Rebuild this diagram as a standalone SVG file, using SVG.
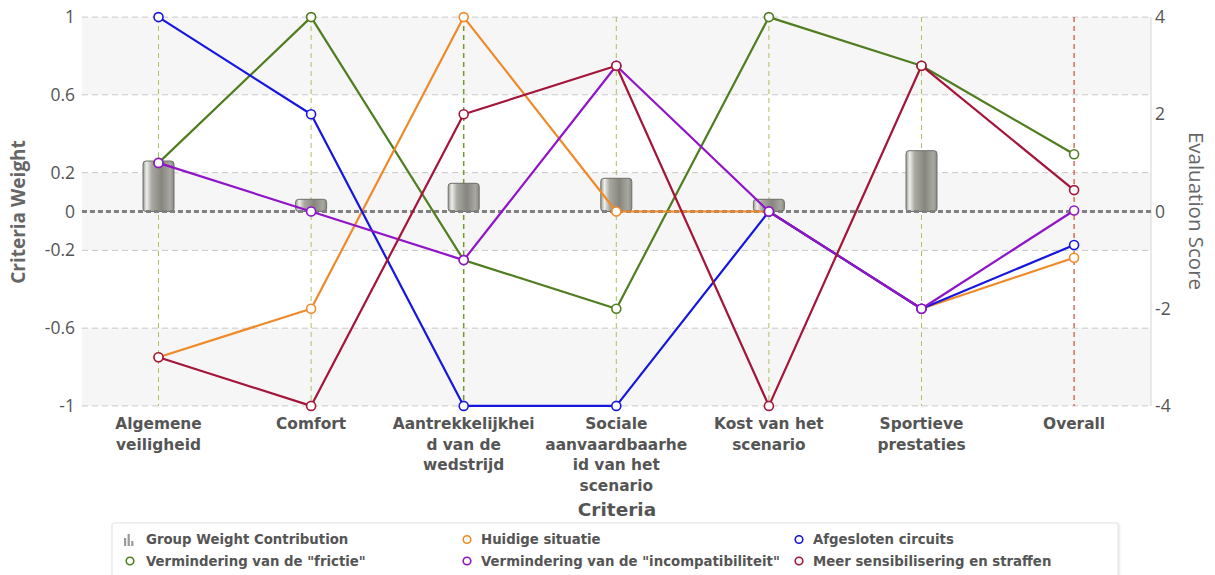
<svg xmlns="http://www.w3.org/2000/svg" width="1215" height="575" viewBox="0 0 1215 575">
  <style>
    .band { fill: #f6f6f6; }
    .grid { stroke: #c9c9c9; stroke-width: 1; stroke-dasharray: 6 4; fill: none; }
    .zero { stroke: #808080; stroke-width: 3; stroke-dasharray: 5 3; fill: none; }
    .guide { stroke: #a9c35c; stroke-width: 1; stroke-dasharray: 5 4; fill: none; }
    .guide-hi { stroke: #6e9c2c; stroke-width: 1.5; stroke-dasharray: 5 4; fill: none; }
    .guide-total { stroke: #cf5b3c; stroke-width: 1.3; stroke-dasharray: 5 4; fill: none; }
    .tick { font-family: "Open Sans", "DejaVu Sans", sans-serif; font-size: 17.5px; fill: #555; }
    .tick-l { text-anchor: end; }
    .axis-title { font-family: "Open Sans", "DejaVu Sans", sans-serif; fill: #666; text-anchor: middle; }
    .cat { font-family: "DejaVu Sans", Verdana, sans-serif; font-weight: bold; font-size: 15.4px; fill: #555; text-anchor: middle; }
    .cat-title { font-family: "DejaVu Sans", Verdana, sans-serif; font-weight: bold; font-size: 18.5px; fill: #555; text-anchor: middle; }
    .legend-text { font-family: "DejaVu Sans", Verdana, sans-serif; font-weight: bold; font-size: 13.3px; fill: #555; }
    .bar { fill: url(#barGrad); stroke: #6f6f6a; stroke-width: 1; }
    .line { fill: none; stroke-width: 2.2; stroke-linejoin: round; }
    .dot { fill: #fff; stroke-width: 1.6; }
    .s-green { stroke: #4f7d1f; }
    .s-orange { stroke: #ee8a2a; }
    .s-blue { stroke: #1616de; }
    .s-purple { stroke: #9014c8; }
    .s-red { stroke: #a3153a; }
  </style>
  <defs>
    <linearGradient id="barGrad" x1="0" y1="0" x2="1" y2="0">
      <stop offset="0" stop-color="#9c9c94"/>
      <stop offset="0.12" stop-color="#eeeeea"/>
      <stop offset="0.28" stop-color="#a9a9a2"/>
      <stop offset="0.6" stop-color="#86867f"/>
      <stop offset="0.88" stop-color="#a8a8a1"/>
      <stop offset="1" stop-color="#8a8a84"/>
    </linearGradient>
    <filter id="legendShadow" x="-5%" y="-20%" width="110%" height="140%">
      <feDropShadow dx="1" dy="1" stdDeviation="1.2" flood-color="#000" flood-opacity="0.12"/>
    </filter>
  </defs>

  <rect width="1215" height="575" fill="#fff"/>

  <!-- plot background bands -->
  <g id="plot-bands">
    <rect class="band" x="82" y="17.1" width="1069" height="77.7"/>
    <rect class="band" x="82" y="172.6" width="1069" height="77.8"/>
    <rect class="band" x="82" y="328.2" width="1069" height="77.7"/>
    <line x1="1151" y1="17" x2="1151" y2="406" stroke="#d6d6d6" stroke-width="1"/>
  </g>

  <!-- horizontal grid -->
  <g id="grid">
    <line class="grid" x1="82" y1="17.1" x2="1151" y2="17.1"/>
    <line class="grid" x1="82" y1="94.8" x2="1151" y2="94.8"/>
    <line class="grid" x1="82" y1="172.6" x2="1151" y2="172.6"/>
    <line class="grid" x1="82" y1="250.4" x2="1151" y2="250.4"/>
    <line class="grid" x1="82" y1="328.2" x2="1151" y2="328.2"/>
    <line class="grid" x1="82" y1="405.9" x2="1151" y2="405.9" stroke="#bdbdbd"/>
  </g>

  <!-- per-criterion guides -->
  <g id="guides">
    <line class="guide" x1="158.5" y1="17" x2="158.5" y2="406"/>
    <line class="guide" x1="311.1" y1="17" x2="311.1" y2="406"/>
    <line class="guide-hi" x1="463.7" y1="17" x2="463.7" y2="406"/>
    <line class="guide" x1="616.3" y1="17" x2="616.3" y2="406"/>
    <line class="guide" x1="768.9" y1="17" x2="768.9" y2="406"/>
    <line class="guide" x1="921.5" y1="17" x2="921.5" y2="406"/>
    <line class="guide-total" x1="1074.1" y1="17" x2="1074.1" y2="406"/>
  </g>

  <!-- weight bars -->
  <g id="bars">
    <rect class="bar" x="143" y="161" width="31" height="50.5" rx="3"/>
    <rect class="bar" x="295.6" y="199.3" width="31" height="12.2" rx="3"/>
    <rect class="bar" x="448.2" y="183.3" width="31" height="28.2" rx="3"/>
    <rect class="bar" x="600.8" y="178.3" width="31" height="33.2" rx="3"/>
    <rect class="bar" x="753.4" y="199.3" width="31" height="12.2" rx="3"/>
    <rect class="bar" x="906" y="150.7" width="31" height="60.8" rx="3"/>
  </g>

  <line id="zero-line" class="zero" x1="82" y1="211.5" x2="1151" y2="211.5"/>

  <!-- connectors: one polyline per scenario -->
  <g id="connectors">
    <g id="series-frictie">
      <polyline class="line s-green" points="158.5,162.9 311.1,17.1 463.7,260.1 616.3,308.7 768.9,17.1 921.5,65.7 1074.1,154.2"/>
      <g class="dot s-green">
        <circle cx="158.5" cy="162.9" r="4.5"/><circle cx="311.1" cy="17.1" r="4.5"/><circle cx="463.7" cy="260.1" r="4.5"/>
        <circle cx="616.3" cy="308.7" r="4.5"/><circle cx="768.9" cy="17.1" r="4.5"/><circle cx="921.5" cy="65.7" r="4.5"/>
        <circle cx="1074.1" cy="154.2" r="4.5"/>
      </g>
    </g>
    <g id="series-huidige">
      <polyline class="line s-orange" points="158.5,357.3 311.1,308.7 463.7,17.1 616.3,211.5 768.9,211.5 921.5,308.7 1074.1,257.7"/>
      <g class="dot s-orange">
        <circle cx="158.5" cy="357.3" r="4.5"/><circle cx="311.1" cy="308.7" r="4.5"/><circle cx="463.7" cy="17.1" r="4.5"/>
        <circle cx="616.3" cy="211.5" r="4.5"/><circle cx="768.9" cy="211.5" r="4.5"/><circle cx="921.5" cy="308.7" r="4.5"/>
        <circle cx="1074.1" cy="257.7" r="4.5"/>
      </g>
    </g>
    <g id="series-afgesloten">
      <polyline class="line s-blue" points="158.5,17.1 311.1,114.3 463.7,405.9 616.3,405.9 768.9,211.5 921.5,308.7 1074.1,245"/>
      <g class="dot s-blue">
        <circle cx="158.5" cy="17.1" r="4.5"/><circle cx="311.1" cy="114.3" r="4.5"/><circle cx="463.7" cy="405.9" r="4.5"/>
        <circle cx="616.3" cy="405.9" r="4.5"/><circle cx="768.9" cy="211.5" r="4.5"/><circle cx="921.5" cy="308.7" r="4.5"/>
        <circle cx="1074.1" cy="245" r="4.5"/>
      </g>
    </g>
    <g id="series-incompatibiliteit">
      <polyline class="line s-purple" points="158.5,162.9 311.1,211.5 463.7,260.1 616.3,65.7 768.9,211.5 921.5,308.7 1074.1,210.5"/>
      <g class="dot s-purple">
        <circle cx="158.5" cy="162.9" r="4.5"/><circle cx="311.1" cy="211.5" r="4.5"/><circle cx="463.7" cy="260.1" r="4.5"/>
        <circle cx="616.3" cy="65.7" r="4.5"/><circle cx="768.9" cy="211.5" r="4.5"/><circle cx="921.5" cy="308.7" r="4.5"/>
        <circle cx="1074.1" cy="210.5" r="4.5"/>
      </g>
    </g>
    <g id="series-sensibilisering">
      <polyline class="line s-red" points="158.5,357.3 311.1,405.9 463.7,114.3 616.3,65.7 768.9,405.9 921.5,65.7 1074.1,190.1"/>
      <g class="dot s-red">
        <circle cx="158.5" cy="357.3" r="4.5"/><circle cx="311.1" cy="405.9" r="4.5"/><circle cx="463.7" cy="114.3" r="4.5"/>
        <circle cx="616.3" cy="65.7" r="4.5"/><circle cx="768.9" cy="405.9" r="4.5"/><circle cx="921.5" cy="65.7" r="4.5"/>
        <circle cx="1074.1" cy="190.1" r="4.5"/>
      </g>
    </g>
  </g>

  <!-- left axis: criteria weight -->
  <g id="axis-left">
    <text class="tick tick-l" x="75" y="23">1</text>
    <text class="tick tick-l" x="75" y="101">0.6</text>
    <text class="tick tick-l" x="75" y="179">0.2</text>
    <text class="tick tick-l" x="75" y="218">0</text>
    <text class="tick tick-l" x="75" y="256">-0.2</text>
    <text class="tick tick-l" x="75" y="334">-0.6</text>
    <text class="tick tick-l" x="75" y="412">-1</text>
    <text class="axis-title" font-weight="bold" font-size="19" transform="translate(25 212) rotate(-90)">Criteria Weight</text>
  </g>

  <!-- right axis: evaluation score -->
  <g id="axis-right">
    <text class="tick" x="1155" y="23">4</text>
    <text class="tick" x="1155" y="120">2</text>
    <text class="tick" x="1155" y="218">0</text>
    <text class="tick" x="1155" y="315">-2</text>
    <text class="tick" x="1155" y="412">-4</text>
    <text class="axis-title" font-size="20.5" transform="translate(1189 211) rotate(90)">Evaluation Score</text>
  </g>

  <!-- criteria labels -->
  <g id="criteria-labels">
    <g id="crit-algemene"><text class="cat" x="158.5" y="429">Algemene</text><text class="cat" x="158.5" y="449.5">veiligheid</text></g>
    <g id="crit-comfort"><text class="cat" x="311.1" y="429">Comfort</text></g>
    <g id="crit-aantrekkelijkheid"><text class="cat" x="463.7" y="429">Aantrekkelijkhei</text><text class="cat" x="463.7" y="449.5">d van de</text><text class="cat" x="463.7" y="470">wedstrijd</text></g>
    <g id="crit-sociale"><text class="cat" x="616.3" y="429">Sociale</text><text class="cat" x="616.3" y="449.5">aanvaardbaarhe</text><text class="cat" x="616.3" y="470">id van het</text><text class="cat" x="616.3" y="490.5">scenario</text></g>
    <g id="crit-kost"><text class="cat" x="768.9" y="429">Kost van het</text><text class="cat" x="768.9" y="449.5">scenario</text></g>
    <g id="crit-sportieve"><text class="cat" x="921.5" y="429">Sportieve</text><text class="cat" x="921.5" y="449.5">prestaties</text></g>
    <g id="crit-overall"><text class="cat" x="1074.1" y="429">Overall</text></g>
    <text class="cat-title" x="617" y="516">Criteria</text>
  </g>

  <!-- legend -->
  <g id="legend">
    <rect x="112" y="523" width="1006" height="62" rx="2" fill="#fff" stroke="#e2e2e2" filter="url(#legendShadow)"/>
    <g id="legend-weight">
      <rect x="124" y="538" width="2.2" height="8" fill="#9a9a9a"/>
      <rect x="127.6" y="534" width="2.2" height="12" fill="#9a9a9a"/>
      <rect x="131.2" y="541" width="2.2" height="5" fill="#9a9a9a"/>
      <text class="legend-text" x="146" y="544">Group Weight Contribution</text>
    </g>
    <g id="legend-huidige">
      <circle class="dot s-orange" cx="467" cy="539.5" r="3.8"/>
      <text class="legend-text" x="481" y="544">Huidige situatie</text>
    </g>
    <g id="legend-afgesloten">
      <circle class="dot s-blue" cx="799" cy="539.5" r="3.8"/>
      <text class="legend-text" x="813" y="544">Afgesloten circuits</text>
    </g>
    <g id="legend-frictie">
      <circle class="dot s-green" cx="130" cy="561" r="3.8"/>
      <text class="legend-text" x="146" y="565.5">Vermindering van de "frictie"</text>
    </g>
    <g id="legend-incompatibiliteit">
      <circle class="dot s-purple" cx="467" cy="561" r="3.8"/>
      <text class="legend-text" x="481" y="565.5">Vermindering van de "incompatibiliteit"</text>
    </g>
    <g id="legend-sensibilisering">
      <circle class="dot s-red" cx="799" cy="561" r="3.8"/>
      <text class="legend-text" x="813" y="565.5">Meer sensibilisering en straffen</text>
    </g>
  </g>
</svg>
